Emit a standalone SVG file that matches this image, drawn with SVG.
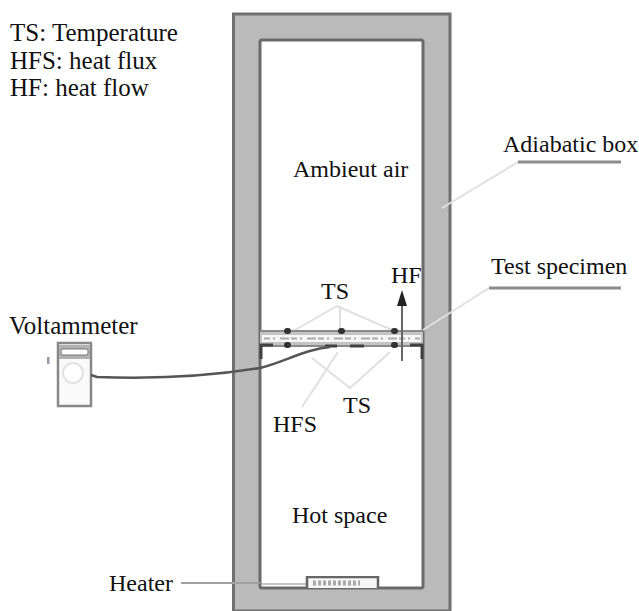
<svg xmlns="http://www.w3.org/2000/svg" width="639" height="611" viewBox="0 0 639 611">
<defs><filter id="soft" x="-5%" y="-5%" width="110%" height="110%"><feGaussianBlur stdDeviation="0.6"/></filter></defs>
<style>
text{font-family:"Liberation Serif","Times New Roman",serif;font-size:24px;fill:#111}
.big{font-size:25px}
.leader{fill:none;stroke:#e0e0e0;stroke-width:2}
.under{fill:none;stroke:#8c8c8c;stroke-width:3}
.dark{fill:none;stroke:#404040;stroke-width:3}
.sensor{fill:#333}
</style>
<rect width="639" height="611" fill="#fff"/>
<g id="adiabatic-box" filter="url(#soft)">
<path d="M233.500 611V14H450V611Z" fill="#bababa" stroke="#707070" stroke-width="3"/>
<rect x="260" y="40" width="163" height="548" rx="2" fill="#fff" stroke="#6a6a6a" stroke-width="3"/>
</g>
<g id="connectors">
<path class="leader" d="M295 330L337 306L392 330M340 306V330"/>
<path class="leader" d="M312 358L350 388L390 352M338 352L302 407"/>
<path class="leader" d="M518 162L442 208"/>
<path class="under" d="M518 162H621"/>
<path class="leader" d="M489 288L423 330"/>
<path class="under" d="M489 288H621"/>
<path d="M181 583H260" stroke="#a0a0a0" stroke-width="2" fill="none"/>
<path d="M262 584H307" stroke="#c4c4c4" stroke-width="2" fill="none"/>
</g>
<g id="test-specimen" filter="url(#soft)">
<rect x="260" y="331" width="163" height="15" fill="#c4c4c4"/>
<rect x="262" y="335" width="159" height="7" fill="#f6f6f6"/>
<path d="M264 338.500h156" stroke="#aaa" stroke-width="2" stroke-dasharray="6 3 2 5 9 2" fill="none"/>
<path d="M260 331H423" stroke="#8a8a8a" stroke-width="2" fill="none"/>
<path d="M260 346H423" stroke="#8a8a8a" stroke-width="2" fill="none"/>
<path class="dark" d="M261 359V345H273M422 359V345H410"/>
<path class="dark" d="M325 346H337M350 346H364"/>
<rect class="sensor" x="284" y="328" width="7" height="6" rx="3"/>
<rect class="sensor" x="338" y="328" width="7" height="6" rx="3"/>
<rect class="sensor" x="391" y="328" width="7" height="6" rx="3"/>
<rect class="sensor" x="284" y="342" width="7" height="6" rx="3"/>
<rect class="sensor" x="391" y="342" width="7" height="6" rx="3"/>
</g>
<g id="heater" filter="url(#soft)">
<path d="M307 588V577H378V588" fill="#f6f6f6" stroke="#666" stroke-width="2.500"/>
<path d="M313 583H360" stroke="#a8a8a8" stroke-width="5" stroke-dasharray="3 2" fill="none"/>
</g>
<g id="voltammeter" filter="url(#soft)">
<rect x="58" y="343" width="33" height="63" fill="#fafafa" stroke="#888" stroke-width="2.500"/>
<rect x="59" y="345" width="31" height="14" fill="#b0b0b0"/>
<rect x="61" y="349" width="27" height="6" rx="2" fill="#fff" stroke="#777"/>
<circle cx="73" cy="373" r="10" fill="#fff" stroke="#e2e2e2" stroke-width="2"/>
<rect x="47" y="357" width="2.500" height="7" fill="#99a"/>
</g>
<g id="arrows" filter="url(#soft)">
<path d="M91 375L97 377C150 379 205 377 260 368C285 362 305 349 330 347" fill="none" stroke="#555" stroke-width="2.500"/>
<path d="M402 361V303" stroke="#666" stroke-width="2" fill="none"/>
<path d="M402 290L397 306H407Z" fill="#222"/>
</g>
<g id="labels">
<text class="big" x="10" y="41">TS: Temperature</text>
<text class="big" x="10" y="69">HFS: heat flux</text>
<text class="big" x="10" y="96">HF: heat flow</text>
<text x="293" y="177">Ambieut air</text>
<text x="503" y="152">Adiabatic box</text>
<text x="491" y="274">Test specimen</text>
<text x="321" y="299">TS</text>
<text x="391" y="283">HF</text>
<text class="big" x="9" y="334">Voltammeter</text>
<text x="343" y="413">TS</text>
<text x="273" y="432">HFS</text>
<text x="292" y="523">Hot space</text>
<text x="109" y="591">Heater</text>
</g>
</svg>
